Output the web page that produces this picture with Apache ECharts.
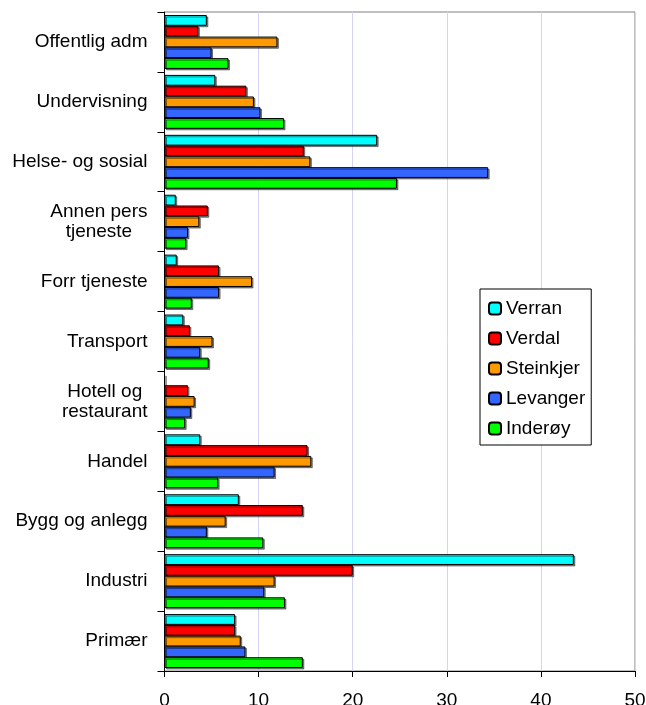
<!DOCTYPE html>
<html>
<head>
<meta charset="utf-8">
<script src="https://cdn.jsdelivr.net/npm/echarts@6/dist/echarts.min.js"></script>
<style>html,body{margin:0;padding:0;background:#fff;}#c{width:646px;height:705px;}</style>
</head>
<body>
<div id="c"></div>
<script>
// categories listed bottom to top
var categories = ['Primær', 'Industri', 'Bygg og anlegg', 'Handel', 'Hotell og\nrestaurant', 'Transport', 'Forr tjeneste', 'Annen pers\ntjeneste', 'Helse- og sosial', 'Undervisning', 'Offentlig adm'];
var verran    = [7.5, 43.5, 7.9, 3.8, 0,   2.0, 1.3, 1.2, 22.6, 5.4, 4.5];
var verdal    = [7.5, 20.0, 14.7, 15.2, 2.5, 2.7, 5.8, 4.6, 14.8, 8.7, 3.6];
var steinkjer = [8.1, 11.7, 6.5, 15.6, 3.2, 5.1, 9.3, 3.7, 15.5, 9.5, 12.0];
var levanger  = [8.6, 10.6, 4.5, 11.7, 2.8, 3.8, 5.8, 2.5, 34.4, 10.2, 5.0];
var inderoy   = [14.7, 12.8, 10.5, 5.7, 2.2, 4.7, 2.9, 2.3, 24.7, 12.7, 6.8];
var seriesNames = ['Verran', 'Verdal', 'Steinkjer', 'Levanger', 'Inderøy'];
var xTicks = [0, 10, 20, 30, 40, 50];

var colors = {Verran: '#00FFFF', Verdal: '#FF0000', Steinkjer: '#FF9900', Levanger: '#3366FF', 'Inderøy': '#00FF00'};
var dataMap = {Verran: verran, Verdal: verdal, Steinkjer: steinkjer, Levanger: levanger, 'Inderøy': inderoy};
var font = 'Liberation Sans, Arial, sans-serif';

function mk(name) {
  return {
    name: name, type: 'bar', data: dataMap[name],
    barGap: '0%', barCategoryGap: '10%',
    itemStyle: {color: colors[name], borderColor: '#000', borderWidth: 1,
      shadowColor: 'rgba(0,0,0,0.45)', shadowOffsetX: 1.5, shadowOffsetY: 1.5, shadowBlur: 0},
    emphasis: {disabled: true}, animation: false
  };
}
var series = seriesNames.map(mk);

var chart = echarts.init(document.getElementById('c'), null, {renderer: 'canvas'});
chart.setOption({
  animation: false,
  backgroundColor: '#fff',
  grid: {left: 164.5, right: 11, top: 12, bottom: 34, containLabel: false, outerBoundsMode: 'none',
    show: true, borderColor: '#808080', borderWidth: 1, backgroundColor: 'transparent'},
  xAxis: {
    type: 'value', min: xTicks[0], max: xTicks[xTicks.length - 1], interval: 10,
    axisLine: {show: true, lineStyle: {color: '#000', width: 1}},
    axisTick: {show: true, length: 6, lineStyle: {color: '#000'}},
    axisLabel: {fontSize: 19, color: '#000', fontFamily: font, margin: 20},
    splitLine: {show: true, lineStyle: {color: '#d4d4f4', width: 1}}
  },
  yAxis: {
    type: 'category', data: categories,
    axisLine: {show: true, lineStyle: {color: '#000', width: 1}},
    axisTick: {show: true, length: 7, alignWithLabel: false, lineStyle: {color: '#000'}},
    axisLabel: {
      fontSize: 19, color: '#000', fontFamily: font, margin: 17,
      formatter: function (v) {
        if (v.indexOf('\n') >= 0) {
          return v.split('\n').map(function (l) { return '{c|' + l + '}'; }).join('\n');
        }
        return v;
      },
      rich: {c: {align: 'center', fontSize: 19, fontFamily: font, color: '#000', lineHeight: 20}}
    },
    splitLine: {show: false}
  },
  legend: {
    data: seriesNames, orient: 'vertical', left: 480, top: 289,
    padding: [10, 6, 7, 8], itemWidth: 12, itemHeight: 12, itemGap: 11,
    borderColor: '#000', borderWidth: 1, backgroundColor: '#fff',
    textStyle: {fontSize: 19, color: '#000', fontFamily: font},
    selectedMode: false
  },
  series: series
});
</script>
</body>
</html>
